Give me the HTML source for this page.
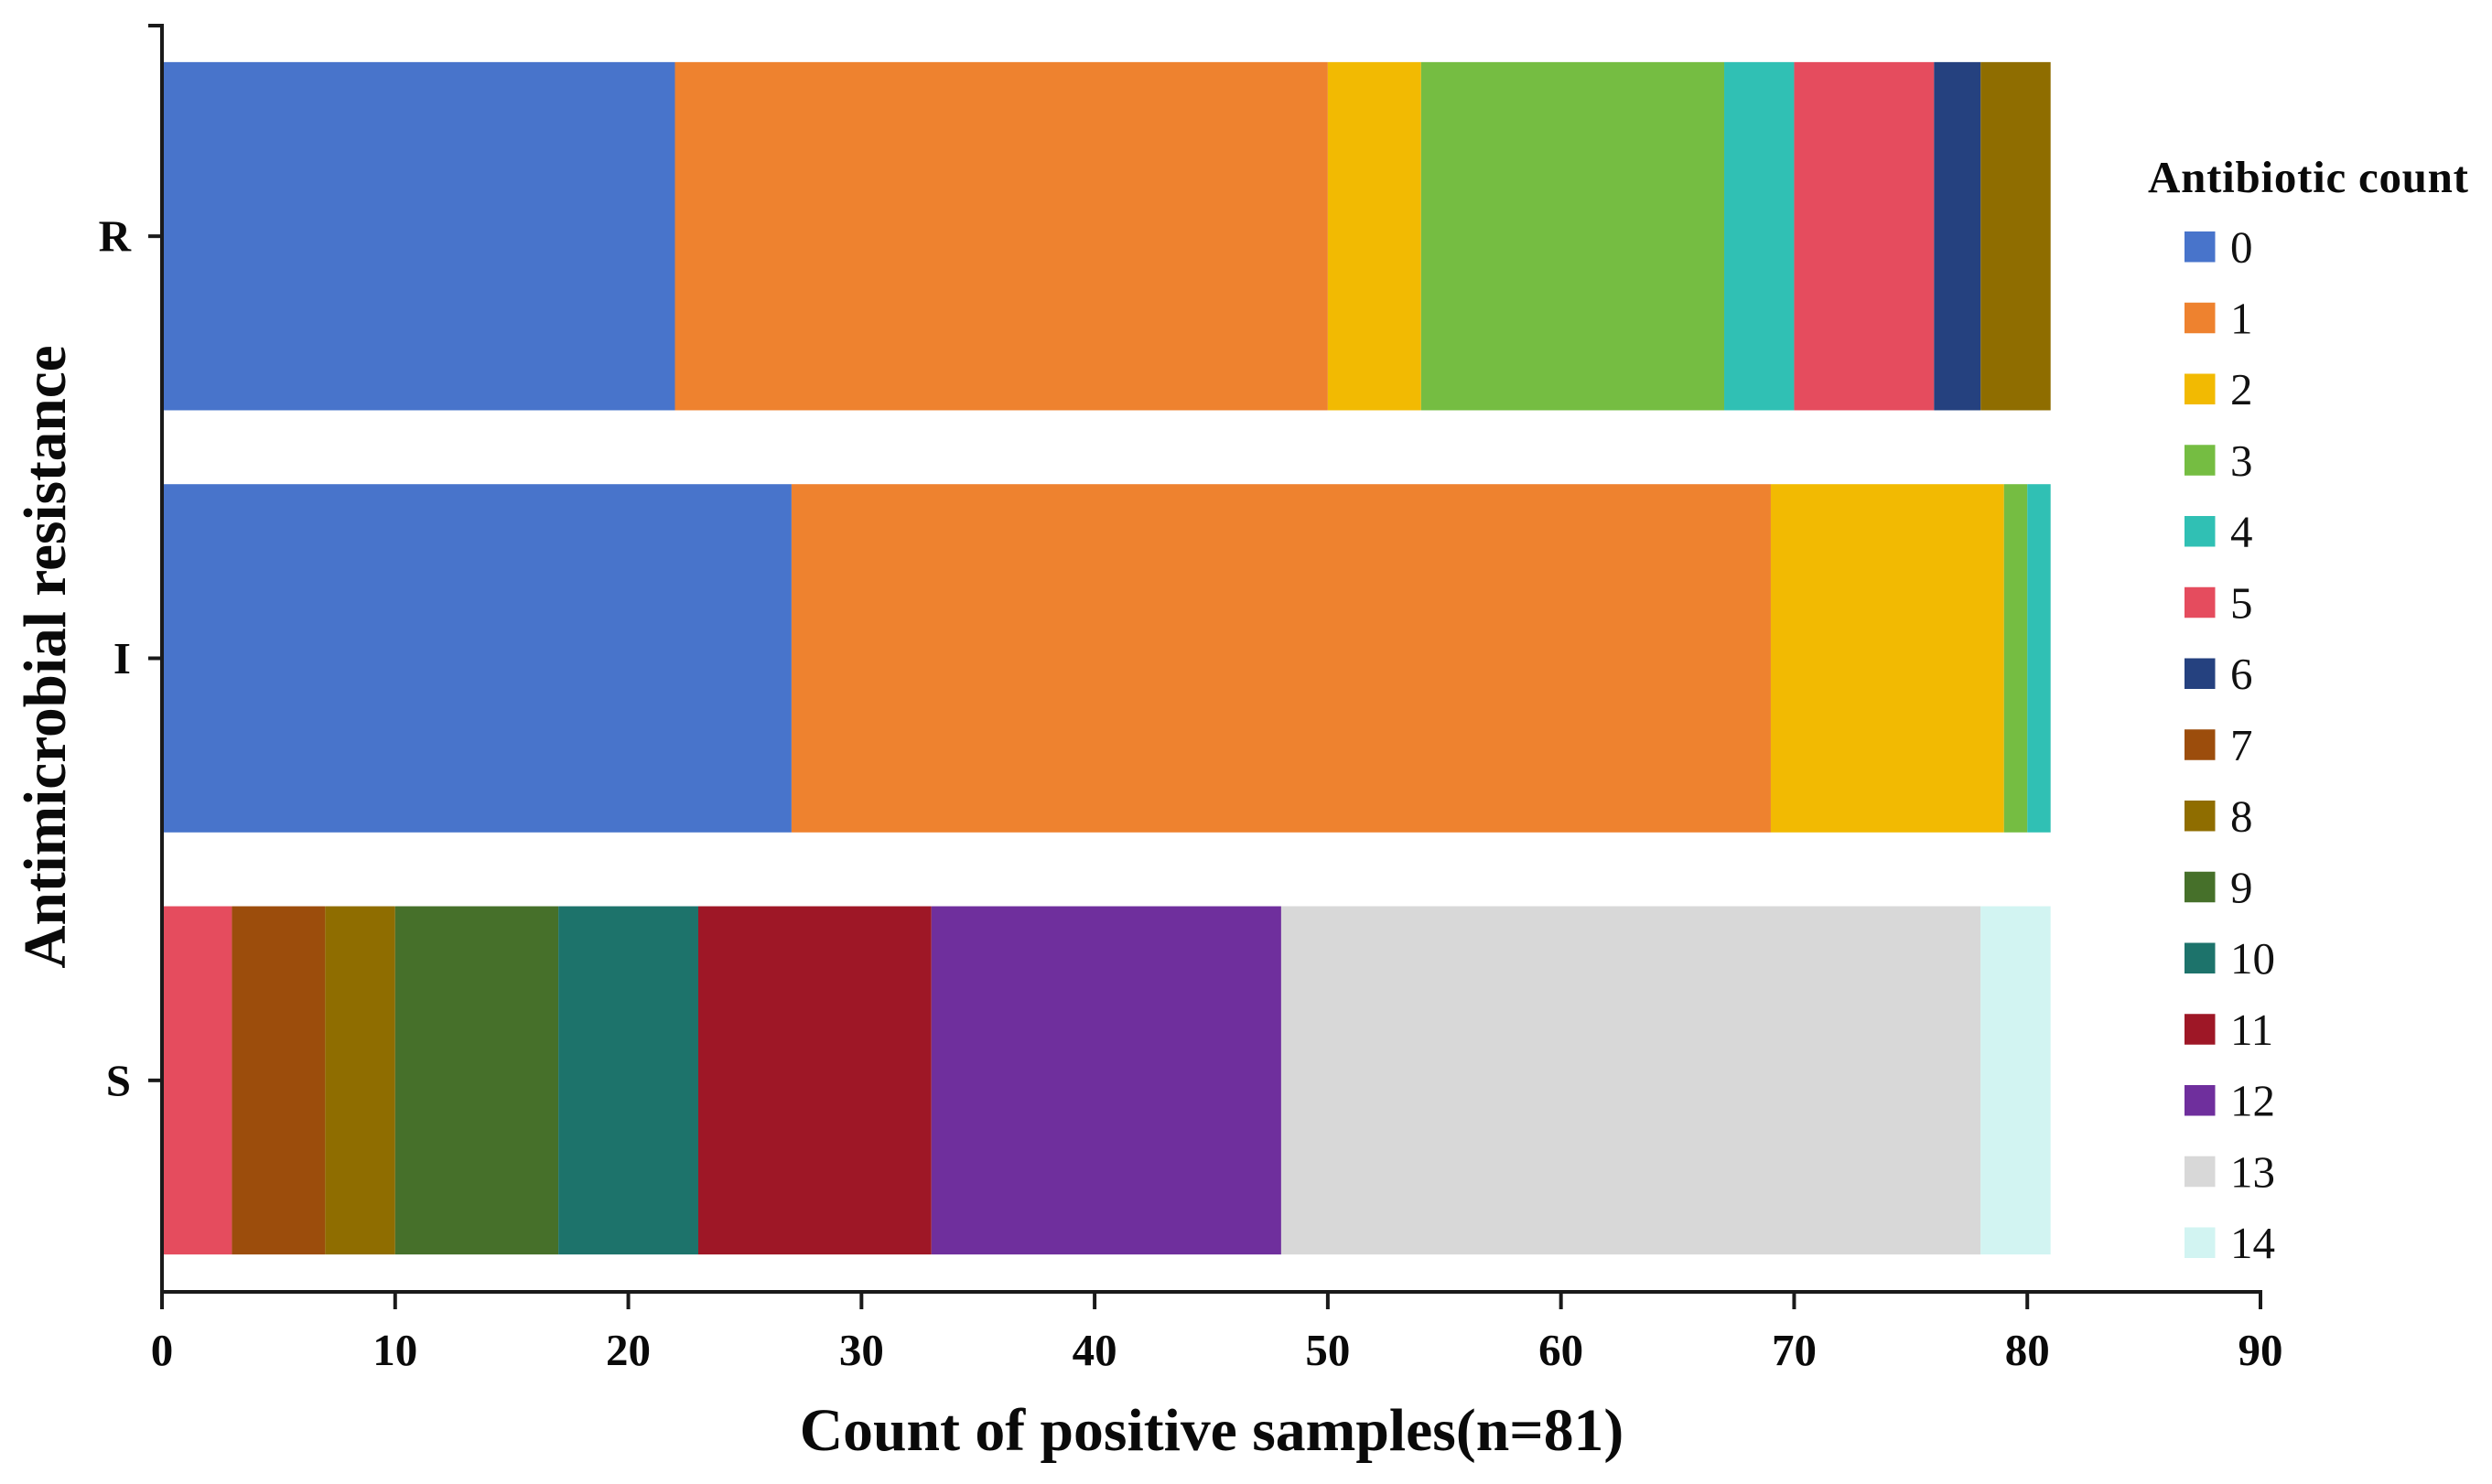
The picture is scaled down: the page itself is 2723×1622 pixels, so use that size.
<!DOCTYPE html>
<html lang="en">
<head>
<meta charset="utf-8">
<title>Antimicrobial resistance by antibiotic count</title>
<style>
  html, body { margin: 0; padding: 0; background: #ffffff; }
  svg { display: block; font-family: "Liberation Serif", serif; }
</style>
</head>
<body>
<svg id="chart" xmlns="http://www.w3.org/2000/svg" width="2723" height="1622" viewBox="0 0 2723 1622">
  <rect x="0" y="0" width="2723" height="1622" fill="#ffffff"/>
  <g id="bars"></g>
  <g id="axes"></g>
  <text x="1324" y="1585" text-anchor="middle" font-size="65.7" font-weight="bold" fill="#0a0a0a">Count of positive samples(n=81)</text>
  <text transform="translate(71 718) rotate(-90)" text-anchor="middle" font-size="65.3" font-weight="bold" fill="#0a0a0a">Antimicrobial resistance</text>
  <text x="2347" y="210" font-size="49" font-weight="bold" fill="#0a0a0a" textLength="350" lengthAdjust="spacing">Antibiotic count</text>
  <g id="legend"></g>
</svg>
<script>
// Data
const categories = ['R', 'I', 'S'];
const seriesNames = ['0', '1', '2', '3', '4', '5', '6', '7', '8', '9', '10', '11', '12', '13', '14'];
const xTickValues = [0, 10, 20, 30, 40, 50, 60, 70, 80, 90];
const count0 = [22, 27, 0];
const count1 = [28, 42, 0];
const count2 = [4, 10, 0];
const count3 = [13, 1, 0];
const count4 = [3, 1, 0];
const count5 = [6, 0, 3];
const count6 = [2, 0, 0];
const count7 = [0, 0, 4];
const count8 = [3, 0, 3];
const count9 = [0, 0, 7];
const count10 = [0, 0, 6];
const count11 = [0, 0, 10];
const count12 = [0, 0, 15];
const count13 = [0, 0, 30];
const count14 = [0, 0, 3];
const seriesValues = [count0, count1, count2, count3, count4, count5, count6, count7, count8, count9, count10, count11, count12, count13, count14];
const seriesColors = ['#4874cb', '#ee822f', '#f2ba02', '#75bd42', '#30c0b4', '#e54c5e', '#25417f', '#9c4d0c', '#8f6d00', '#46702a', '#1d736b', '#9e1726', '#6f2f9d', '#d8d8d8', '#d2f4f2'];

// Layout
const plotLeft = 177, plotTop = 28, plotBottom = 1412, xMax = 90, plotRight = 2470;
const bandSize = (plotBottom - plotTop) / categories.length;
const barHeight = bandSize * 0.825;
const axisColor = '#1a1a1a';
const ns = 'http://www.w3.org/2000/svg';

function xScale(v) { return plotLeft + (v / xMax) * (plotRight - plotLeft); }
function yCenter(i) { return plotTop + (i + 0.5) * bandSize; }

function make(tag, attrs, parent, content) {
  const el = document.createElementNS(ns, tag);
  for (const k in attrs) el.setAttribute(k, attrs[k]);
  if (content !== undefined) el.textContent = content;
  parent.appendChild(el);
  return el;
}

const barsG = document.getElementById('bars');
const axesG = document.getElementById('axes');
const legendG = document.getElementById('legend');

// Stacked bars
categories.forEach(function (cat, c) {
  let running = 0;
  seriesValues.forEach(function (values, s) {
    const v = values[c];
    if (!v) return;
    const x0 = xScale(running);
    const x1 = xScale(running + v);
    const seg = make('rect', { x: x0, y: yCenter(c) - barHeight / 2 - 0.5, width: x1 - x0, height: barHeight, fill: seriesColors[s] }, barsG);
    
    
    running += v;
  });
});

// Y axis
const yAxisLine = make('line', { x1: plotLeft, x2: plotLeft, y1: plotTop - 2, y2: plotBottom + 19, stroke: axisColor, 'stroke-width': 4 }, axesG);



const yTopTick = make('line', { x1: plotLeft - 15, x2: plotLeft, y1: plotTop, y2: plotTop, stroke: axisColor, 'stroke-width': 4 }, axesG);



categories.forEach(function (cat, c) {
  const tick = make('line', { x1: plotLeft - 15, x2: plotLeft, y1: yCenter(c) - 0.5, y2: yCenter(c) - 0.5, stroke: axisColor, 'stroke-width': 4 }, axesG);
  
  
  const label = make('text', { x: 143, y: yCenter(c) + 16, 'text-anchor': 'end', 'font-size': 49, 'font-weight': 'bold', fill: '#0a0a0a' }, axesG, cat);
  
  
});

// X axis
const xAxisLine = make('line', { x1: plotLeft, x2: xScale(xMax) + 2, y1: plotBottom, y2: plotBottom, stroke: axisColor, 'stroke-width': 4 }, axesG);



xTickValues.forEach(function (v) {
  const tick = make('line', { x1: xScale(v), x2: xScale(v), y1: plotBottom, y2: plotBottom + 19, stroke: axisColor, 'stroke-width': 4 }, axesG);
  
  
  const label = make('text', { x: xScale(v), y: 1492, 'text-anchor': 'middle', 'font-size': 49, 'font-weight': 'bold', fill: '#0a0a0a' }, axesG, String(v));
  
  
});

// Legend
const legendTop = 253, legendPitch = 77.75, swatchSize = 33.5;
seriesNames.forEach(function (name, s) {
  const y = legendTop + s * legendPitch;
  const swatch = make('rect', { x: 2387, y: y, width: swatchSize, height: swatchSize, fill: seriesColors[s] }, legendG);
  
  
  const label = make('text', { x: 2437, y: y + 33.5, 'font-size': 49, fill: '#111111' }, legendG, name);
  
  
});
</script>
</body>
</html>
